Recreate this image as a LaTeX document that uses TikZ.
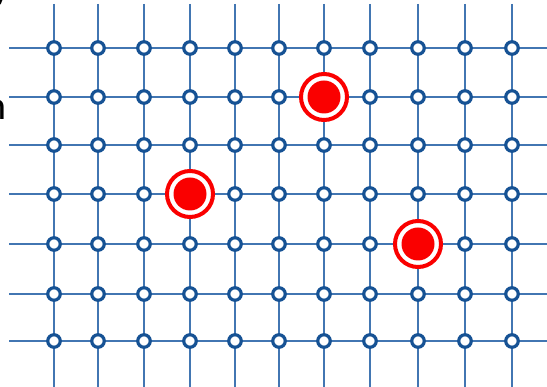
\documentclass[tikz,border=0pt]{standalone}
\usepackage{fontspec}
\newfontfamily\calib{Carlito}
\definecolor{gridline}{RGB}{66,118,178}
\definecolor{nodeblue}{RGB}{22,82,148}
\definecolor{markred}{RGB}{250,0,0}
\tikzset{
  gridline/.style={draw=gridline, line width=1.8pt},
  gridnode/.style={circle, draw=nodeblue, line width=3.2pt, fill=white, minimum size=12.5pt, inner sep=0pt},
  redring/.style={circle, draw=markred, line width=4pt, fill=white, minimum size=46pt, inner sep=0pt},
  reddot/.style={circle, fill=markred, minimum size=33pt, inner sep=0pt},
  cuttext/.style={font=\calib\fontsize{40}{40}\selectfont, text=black, inner sep=0pt}
}
\begin{document}
\begin{tikzpicture}[x=1pt,y=-1pt]
\useasboundingbox (0,0) rectangle (547,387);
\clip (0,0) rectangle (547,387);
\fill[white] (0,0) rectangle (547,387);
% text fragments cut by the frame
\node[cuttext, anchor=base east] (ty) at (12,-1) {y};
\node[cuttext, anchor=base east] (tn) at (7,120) {n};
% grid coordinates
\foreach \x [count=\i] in {54,98,144,190,235,279,324,370,418,465,512} {
  \coordinate (top\i) at (\x,4);
  \coordinate (bot\i) at (\x,387);
}
\foreach \y [count=\j] in {48,97,145,194,244,294,341} {
  \coordinate (left\j) at (9,\y);
  \coordinate (right\j) at (547,\y);
}
\foreach \i in {1,...,11} \draw[gridline] (top\i) -- (bot\i);
\foreach \j in {1,...,7} \draw[gridline] (left\j) -- (right\j);
% grid nodes
\foreach \x [count=\i] in {54,98,144,190,235,279,324,370,418,465,512} {
  \foreach \y [count=\j] in {48,97,145,194,244,294,341} {
    \node[gridnode] (n-\i-\j) at (\x,\y) {};
  }
}
% marked nodes
\foreach \i/\j [count=\k] in {4/4,7/2,9/5} {
  \node[redring] (ring\k) at (n-\i-\j) {};
  \node[reddot] (dot\k) at (n-\i-\j) {};
}
\end{tikzpicture}
\end{document}
